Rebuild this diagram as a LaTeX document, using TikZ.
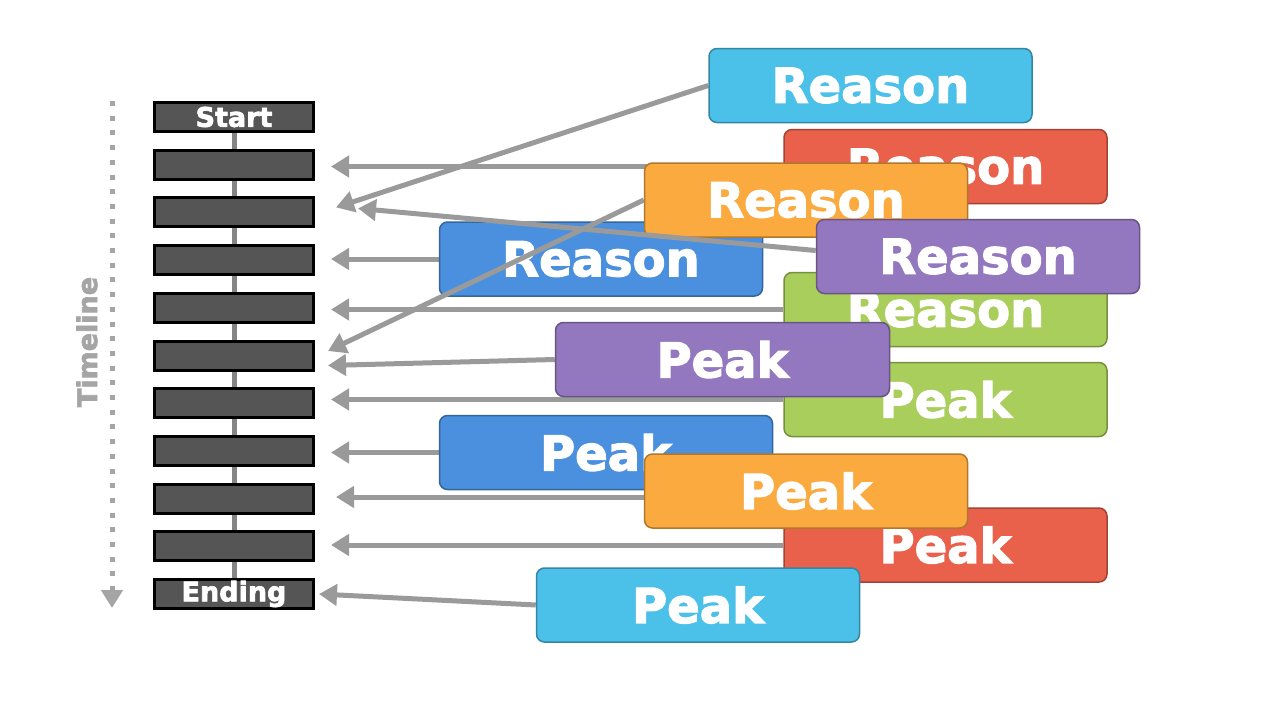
\documentclass[tikz,border=0pt]{standalone}
\usepackage{fontspec}
\setmainfont{DejaVu Sans}
\newfontfamily\heavyfont[FakeBold=2.5]{DejaVu Sans Bold}
\usetikzlibrary{arrows.meta}
\pgfdeclarelayer{background}
\pgfsetlayers{background,main}
\definecolor{cyanbox}{HTML}{4BC0E8}
\definecolor{redbox}{HTML}{E9604B}
\definecolor{orangebox}{HTML}{FBAA40}
\definecolor{bluebox}{HTML}{4A90DE}
\definecolor{purplebox}{HTML}{9478BF}
\definecolor{greenbox}{HTML}{AACE5C}
\definecolor{slotgray}{HTML}{555555}
\definecolor{linkgray}{HTML}{9A9A9A}
\definecolor{spinegray}{HTML}{858585}
\definecolor{tlgray}{HTML}{A5A5A5}
\tikzset{
  card/.style={draw=#1!70!black, fill=#1, line width=1.5pt, rounded corners=8pt,
    minimum width=323pt, minimum height=74pt, inner sep=0pt, text=white,
    font=\fontsize{48}{50}\selectfont\heavyfont},
  slot/.style={draw=black, fill=slotgray, line width=3pt, minimum width=159pt,
    minimum height=29pt, inner sep=0pt, text=white,
    font=\fontsize{27}{28}\selectfont\heavyfont},
  link/.style={draw=linkgray, line width=5pt, -{Triangle[length=18pt,width=21pt]}},
}
\begin{document}
\begin{tikzpicture}[x=1pt,y=-1pt]
  \useasboundingbox (0,0) rectangle (1280,720);
  \coordinate (tl0) at (112,101);
  \coordinate (tl1) at (112,608);
  \draw[tlgray, line width=5pt, dash pattern=on 5pt off 9.7pt,
    -{Triangle[length=18pt,width=21pt]}] (tl0) -- (tl1);
  \node[rotate=90, text=tlgray, font=\fontsize{27}{28}\selectfont\heavyfont]
    (tlabel) at (87,342) {Timeline};
  \node[slot] (t1) at (234,117.0) {Start};
  \node[slot] (t2) at (234,164.7) {};
  \node[slot] (t3) at (234,212.4) {};
  \node[slot] (t4) at (234,260.1) {};
  \node[slot] (t5) at (234,307.8) {};
  \node[slot] (t6) at (234,355.5) {};
  \node[slot] (t7) at (234,403.2) {};
  \node[slot] (t8) at (234,450.9) {};
  \node[slot] (t9) at (234,498.6) {};
  \node[slot] (t10) at (234,546.3) {};
  \node[slot] (t11) at (234,594.0) {Ending};
  \node[card=cyanbox] (rC) at (870.5,85.5) {Reason};
  \node[card=redbox] (rR) at (945.5,166.5) {Reason};
  \node[card=bluebox] (rB) at (601,259) {Reason};
  \node[card=orangebox] (rO) at (806,200) {Reason};
  \node[card=greenbox] (rG) at (945.5,309.5) {Reason};
  \node[card=purplebox] (rP) at (978,256.5) {Reason};
  \node[card=greenbox] (pG) at (945.5,399.5) {Peak};
  \node[card=purplebox, minimum width=334pt] (pP) at (722.5,359.5) {Peak};
  \node[card=bluebox, minimum width=333pt] (pB) at (606,452.5) {Peak};
  \node[card=redbox] (pR) at (945.5,545) {Peak};
  \node[card=orangebox] (pO) at (806,491) {Peak};
  \node[card=cyanbox] (pC) at (698,605) {Peak};
  \begin{pgfonlayer}{background}
    \fill[white] (0,0) rectangle (1280,720);
    \draw[spinegray, line width=5pt] (t1.center) -- (t11.center);
    \draw[link] (rC.west) -- ([xshift=21pt,yshift=5pt]t3.east);
    \draw[link] (rR.west) -- ([xshift=16pt,yshift=-1.8pt]t2.east);
    \draw[link] (rB.west) -- ([xshift=16pt,yshift=1.1pt]t4.east);
    \draw[link] (rG.west) -- ([xshift=16pt,yshift=-1.7pt]t5.east);
    \draw[link] (pP.west) -- ([xshift=13pt,yshift=-10pt]t6.east);
    \draw[link] (pG.west) -- ([xshift=16pt,yshift=3.7pt]t7.east);
    \draw[link] (pB.west) -- ([xshift=16pt,yshift=-1.6pt]t8.east);
    \draw[link] ([yshift=-6pt]pO.west) -- ([xshift=21pt,yshift=1.6pt]t9.east);
    \draw[link] (pR.west) -- ([xshift=16pt,yshift=1.3pt]t10.east);
    \draw[link] (pC.west) -- ([xshift=4pt]t11.east);
  \end{pgfonlayer}
  \draw[link] ([yshift=6pt]rP.west) -- ([xshift=43pt,yshift=4pt]t3.east);
  \draw[link] (rO.west) -- ([xshift=13pt,yshift=4.5pt]t6.east);
\end{tikzpicture}
\end{document}
